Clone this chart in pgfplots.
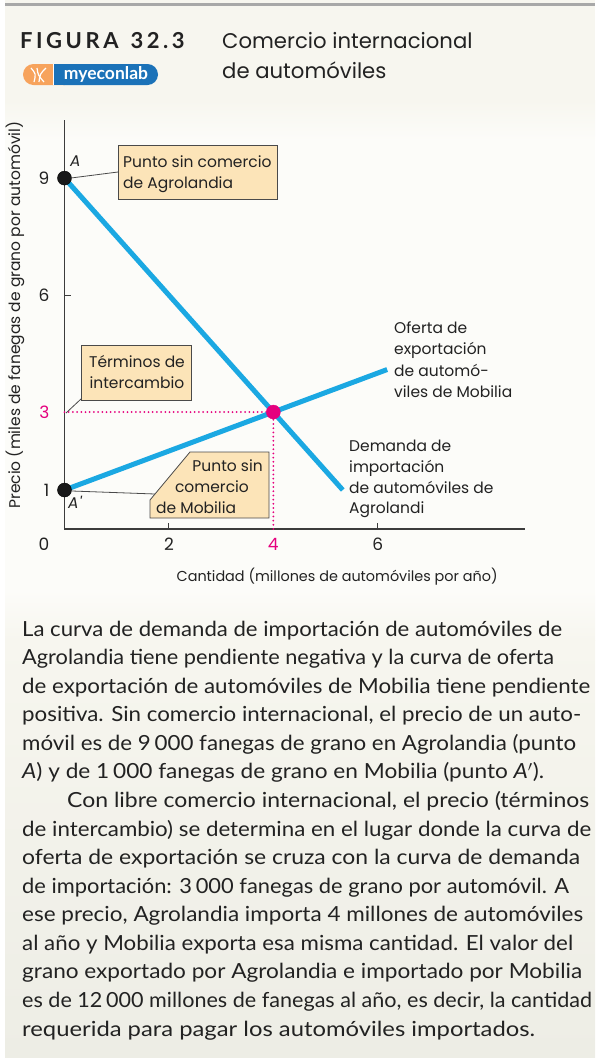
\documentclass[border=0pt]{standalone}
\usepackage{fontspec}
\setmainfont{Lato}
\newfontfamily\chartfont{Poppins}
\usepackage{pgfplots}
\pgfplotsset{compat=1.18}

\definecolor{bgcream}{HTML}{F7F6EF}
\definecolor{bgmid}{HTML}{FCFCF9}
\definecolor{bglow}{HTML}{EDEDE5}
\definecolor{rulegray}{HTML}{A8A8A8}
\definecolor{axisgray}{HTML}{3C3C3C}
\definecolor{curveblue}{HTML}{1BA8E2}
\definecolor{hotpink}{HTML}{E5007E}
\definecolor{boxfill}{HTML}{FCE4B8}
\definecolor{boxline}{HTML}{4A4A4A}
\definecolor{logoorange}{HTML}{F7A35C}
\definecolor{logoblue}{HTML}{1B72B8}
\definecolor{textdark}{HTML}{222222}

\newcommand{\lbl}{\chartfont\fontsize{15.5}{18}\selectfont}
% stretch one caption line to the width it has in the printed page
\newcommand{\fitline}[2]{%
  \setbox0=\hbox{#2}%
  \pgfmathsetmacro{\fitsx}{#1/\wd0}%
  \scalebox{\fitsx}[1]{\box0}}

\begin{document}
\begin{tikzpicture}[x=1pt,y=-1pt]

% background
\fill[white] (0,0) rectangle (595,1058);
\fill[bgcream] (5,0) rectangle (595,100);
\shade[top color=bgcream, bottom color=bgmid] (5,100) rectangle (595,140);
\fill[bgmid] (5,140) rectangle (595,590);
\shade[top color=bgmid, bottom color=bgcream] (5,590) rectangle (595,640);
\shade[top color=bgcream, bottom color=bglow] (5,640) rectangle (595,1058);
\fill[rulegray] (5,3) rectangle (595,6);

% header
\node[anchor=base west, inner sep=0, text=textdark]
  at (20,48) {\fontsize{22}{24}\selectfont\bfseries\addfontfeature{LetterSpace=16}FIGURA\hspace{12pt}32.3};
\node[anchor=base west, inner sep=0, text=textdark]
  at (222,48) {\chartfont\fontsize{21.2}{24}\selectfont Comercio internacional};
\node[anchor=base west, inner sep=0, text=textdark]
  at (222,78) {\chartfont\fontsize{21.2}{24}\selectfont de automóviles};

% logo
\fill[logoorange, rounded corners=10.5pt] (23,64) rectangle (75,85);
\fill[logoblue, rounded corners=10.5pt] (53,64) rectangle (158,85);
\fill[logoblue] (53,64) rectangle (75,85);
\draw[white, line width=0.8pt] (53,64) -- (53,85);
\draw[white, line width=1.2pt] (31,68) .. controls (36,74) .. (34,82);
\draw[white, line width=1.2pt] (37,68) .. controls (38,75) .. (44,82);
\draw[white, line width=1.2pt] (46,68) .. controls (40,74) .. (39,82);
\node[text=white, inner sep=0] at (106,74.5)
  {\fontsize{17.5}{17.5}\selectfont\bfseries myeconlab};

\begin{axis}[
  at={(64.5pt,-529pt)}, anchor=south west,
  scale only axis, width=460.5pt, height=409pt,
  xmin=0, xmax=8.82, ymin=0, ymax=10.49,
  axis lines=left,
  axis line style={-, draw=axisgray, line width=1.2pt},
  tick align=inside,
  major tick length=6pt,
  every tick/.style={axisgray, line width=1.1pt},
  xtick={2,6}, xticklabels={2,6},
  ytick={1,6,9}, yticklabels={1,6,9},
  extra x ticks={4}, extra x tick labels={4},
  extra y ticks={3}, extra y tick labels={3},
  extra tick style={major tick length=0pt, tick label style={text=hotpink}},
  tick label style={font=\chartfont\fontsize{17}{17}\selectfont, text=textdark},
  xticklabel style={anchor=north, inner sep=0pt, yshift=-9pt},
  yticklabel style={anchor=east, inner sep=0pt, xshift=-15pt},
  xlabel={Cantidad (millones de automóviles por año)},
  ylabel={Precio (miles de fanegas de grano por automóvil)},
  label style={font=\lbl, text=textdark},
  xlabel style={font=\chartfont\fontsize{14.4}{17}\selectfont,
    at={(axis description cs:0.592,-0.117)}, anchor=center},
  ylabel style={at={(axis description cs:-0.1075,0.523)}, anchor=center},
  clip=false,
]
% trade lines
\addplot[hotpink, line width=2pt, line cap=round, dash pattern=on 0pt off 4.2pt] coordinates {(0,3) (4,3)};
\addplot[hotpink, line width=2pt, line cap=round, dash pattern=on 0pt off 4.2pt] coordinates {(4,0) (4,3)};
% import demand, Agrolandia
\addplot[curveblue, line width=5pt] coordinates {(0,9) (5.33,1.0)};
% export supply, Mobilia
\addplot[curveblue, line width=5pt] coordinates {(0,1) (6.18,4.09)};
% no-trade points
\addplot[only marks, mark=*, mark size=7pt, draw=black, fill=black!90] coordinates {(0,9) (0,1)};
% equilibrium
\addplot[only marks, mark=*, mark size=7pt, draw=hotpink, fill=hotpink] coordinates {(4,3)};
\node[anchor=north east, inner sep=0pt, xshift=-15pt, yshift=-9pt, text=textdark,
  font=\chartfont\fontsize{17}{17}\selectfont] at (axis cs:0,0) {0};
\end{axis}

\begin{scope}[every node/.style={inner sep=0pt, text=textdark, font=\lbl}]
% Punto sin comercio de Agrolandia
\draw[boxline, line width=0.8pt] (71,178) -- (118,172);
\filldraw[fill=boxfill, draw=boxline, line width=0.8pt] (118,145) rectangle (277,199);
\node[anchor=base west] at (123,167) {Punto sin comercio};
\node[anchor=base west] at (123,188) {de Agrolandia};
\node[anchor=base west] at (70,166) {\itshape A};

% Terminos de intercambio
\draw[boxline, line width=0.8pt] (81,399) -- (66,413);
\filldraw[fill=boxfill, draw=boxline, line width=0.8pt] (81,345) rectangle (191,400);
\node[anchor=base] at (137,367) {Términos de};
\node[anchor=base] at (137,388) {intercambio};

% Punto sin comercio de Mobilia
\draw[boxline, line width=0.8pt] (72,491) -- (155,494);
\filldraw[fill=boxfill, draw=boxline, line width=0.8pt]
  (190,452) -- (269,452) -- (269,518) -- (150,518) -- (150,500) -- cycle;
\node[anchor=base east] at (263,471) {Punto sin};
\node[anchor=base] at (212,492) {comercio};
\node[anchor=base west] at (156,513) {de Mobilia};
\node[anchor=base west] at (68,508) {\itshape A\kern0.5pt'};

% curve labels
\node[anchor=base west] at (394,333) {Oferta de};
\node[anchor=base west] at (394,354) {exportación};
\node[anchor=base west] at (394,376) {de automó-};
\node[anchor=base west] at (394,397) {viles de Mobilia};
\node[anchor=base west] at (349,451) {Demanda de};
\node[anchor=base west] at (349,472) {importación};
\node[anchor=base west] at (349,493) {de automóviles de};
\node[anchor=base west] at (349,513) {Agrolandi};
\end{scope}

% caption
\begin{scope}[every node/.style={anchor=base west, inner sep=0pt, text=textdark,
  font=\fontsize{20.8}{24}\selectfont}]
\node at (22,636.0) {\fitline{540}{La curva de demanda de importación de automóviles de}};
\node at (22,664.6) {\fitline{532}{Agrolandia tiene pendiente negativa y la curva de oferta}};
\node at (22,693.1) {\fitline{568}{de exportación de automóviles de Mobilia tiene pendiente}};
\node at (22,721.7) {\fitline{559}{positiva. Sin comercio internacional, el precio de un auto-}};
\node at (22,750.3) {\fitline{554}{móvil es de 9\,000 fanegas de grano en Agrolandia (punto}};
\node at (22,778.9) {\fitline{522}{\textit{A}) y de 1\,000 fanegas de grano en Mobilia (punto \textit{A}$'$).}};
\node at (67,807.4) {\fitline{522}{Con libre comercio internacional, el precio (términos}};
\node at (22,836.0) {\fitline{569}{de intercambio) se determina en el lugar donde la curva de}};
\node at (22,864.6) {\fitline{558}{oferta de exportación se cruza con la curva de demanda}};
\node at (22,893.1) {\fitline{547}{de importación: 3\,000 fanegas de grano por automóvil. A}};
\node at (22,921.7) {\fitline{561}{ese precio, Agrolandia importa 4 millones de automóviles}};
\node at (22,950.3) {\fitline{551}{al año y Mobilia exporta esa misma cantidad. El valor del}};
\node at (22,978.9) {\fitline{560}{grano exportado por Agrolandia e importado por Mobilia}};
\node at (22,1007.4) {\fitline{570}{es de 12\,000 millones de fanegas al año, es decir, la cantidad}};
\node at (22,1036.0) {\fitline{513}{requerida para pagar los automóviles importados.}};
\end{scope}
\end{tikzpicture}
\end{document}
